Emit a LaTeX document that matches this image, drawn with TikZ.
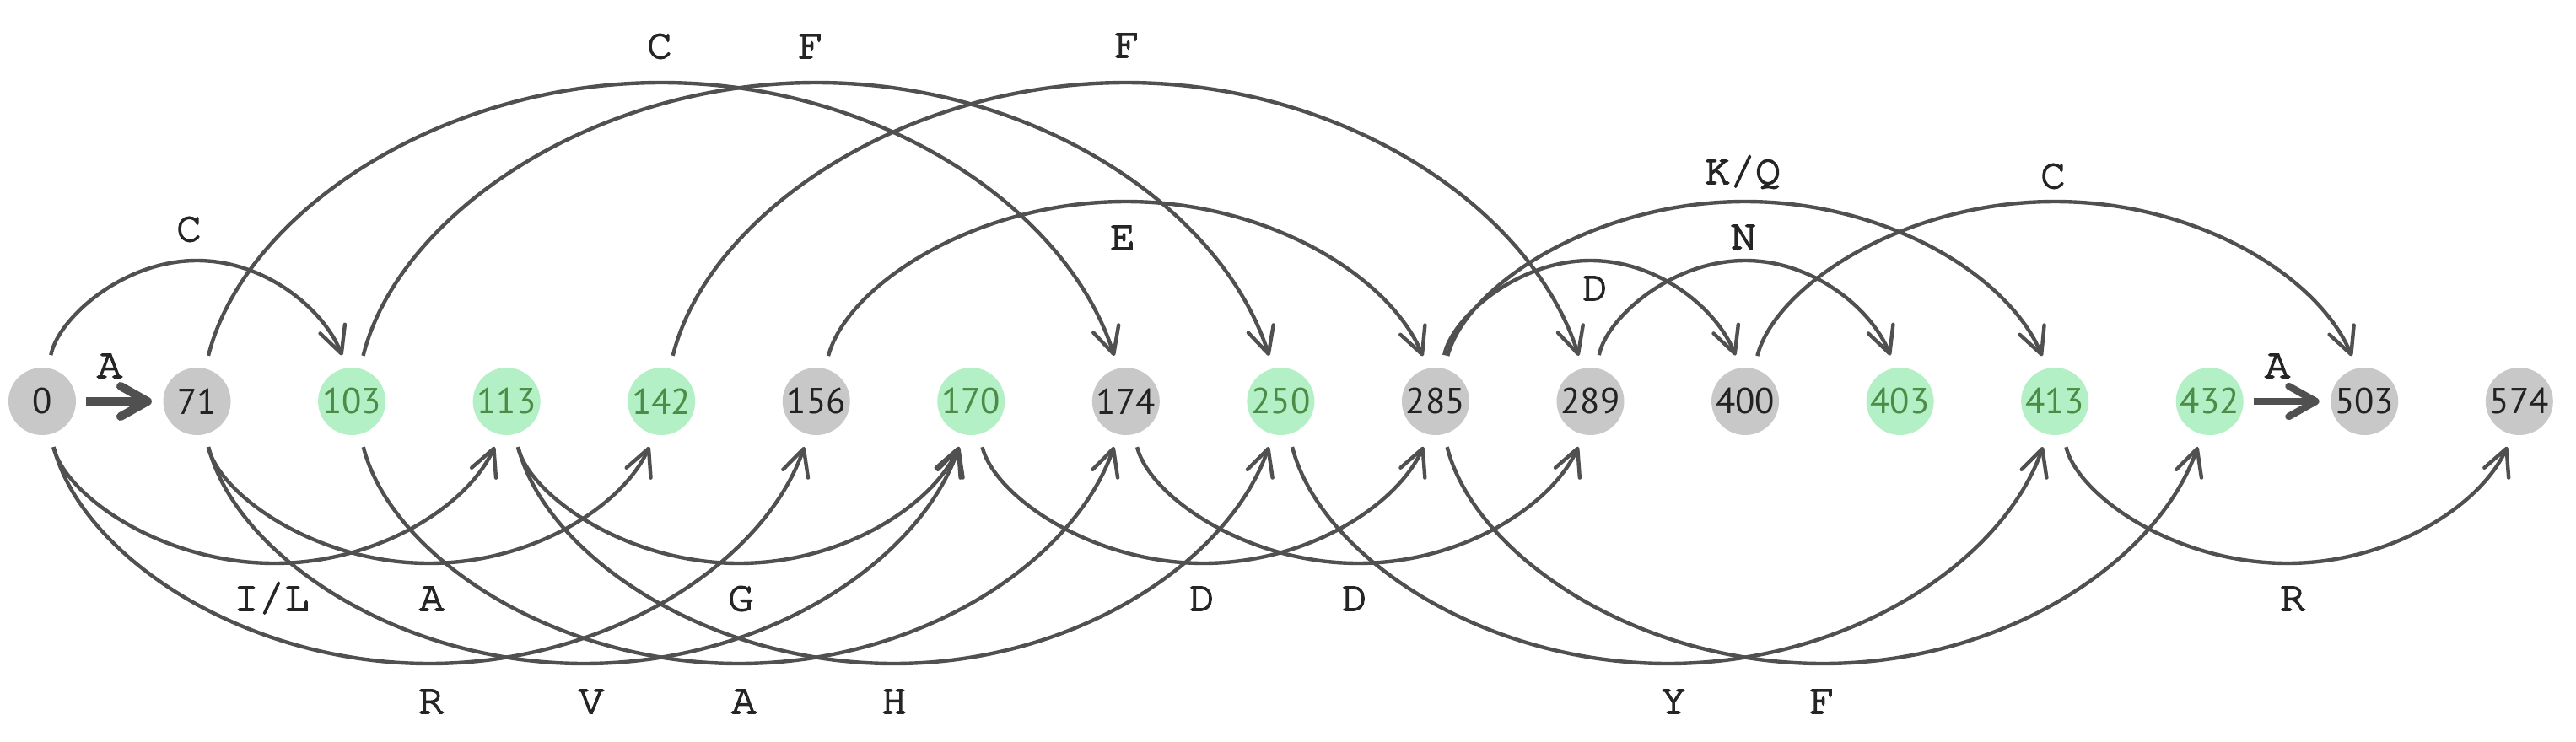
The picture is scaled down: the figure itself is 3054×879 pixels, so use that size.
\documentclass[tikz,border=0pt]{standalone}
\usepackage{fontspec}
\setmainfont{PT Sans}
\newfontfamily\numfont{PT Sans}
\newfontfamily\lblfont{TeX Gyre Cursor}[FakeBold=3]
\usetikzlibrary{arrows.meta,calc,bending}
\definecolor{edgecol}{HTML}{505050}
\definecolor{greyfill}{HTML}{C8C8C8}
\definecolor{greenfill}{HTML}{B4F0C6}
\definecolor{greytext}{HTML}{222222}
\definecolor{greentext}{HTML}{4C8C46}
\definecolor{labelcol}{HTML}{252525}
\newcommand{\arcedge}[6]{\draw[conn] (#1) .. controls +(#3,#4) and +(-#5,0) .. ($(#1)!.5!(#2)+(0,#6)$) .. controls +(#5,0) and +(-#3,#4) .. (#2);}
\begin{document}
\begin{tikzpicture}[x=0.25pt,y=-0.25pt,
  vnode/.style={circle, minimum size=20pt, inner sep=0pt, font=\numfont\fontsize{10.7}{12}\selectfont},
  gnode/.style={vnode, fill=greyfill, text=greytext},
  hnode/.style={vnode, fill=greenfill, text=greentext},
  conn/.style={draw=edgecol, line width=1.1pt, shorten <=3.75pt, shorten >=3.75pt,
    -{Straight Barb[length=7.8pt,width=7.8pt,round]}},
  bigarrow/.style={draw=edgecol, shorten <=2.9pt, shorten >=3.2pt,
    -{Straight Barb[length=8pt,width=9pt,round]}},
  lbl/.style={font=\lblfont\fontsize{12.5}{14}\selectfont, text=labelcol, anchor=base, inner sep=0pt}]
\useasboundingbox (0,0) rectangle (3054,879);
% value nodes
\node[gnode] (n0)  at (50,476) {0};
\node[gnode] (n1)  at (233.55,476) {71};
\node[hnode] (n2)  at (417.1,476) {103};
\node[hnode] (n3)  at (600.65,476) {113};
\node[hnode] (n4)  at (784.2,476) {142};
\node[gnode] (n5)  at (967.75,476) {156};
\node[hnode] (n6)  at (1151.3,476) {170};
\node[gnode] (n7)  at (1334.85,476) {174};
\node[hnode] (n8)  at (1518.4,476) {250};
\node[gnode] (n9)  at (1701.95,476) {285};
\node[gnode] (n10) at (1885.5,476) {289};
\node[gnode] (n11) at (2069.05,476) {400};
\node[hnode] (n12) at (2252.6,476) {403};
\node[hnode] (n13) at (2436.15,476) {413};
\node[hnode] (n14) at (2619.7,476) {432};
\node[gnode] (n15) at (2803.25,476) {503};
\node[gnode] (n16) at (2986.8,476) {574};
% straight arrows
\draw[bigarrow, line width=2.5pt] (n0) -- (n1);
\draw[bigarrow, line width=2.1pt] (n14) -- (n15);
% arcs above
\arcedge{n0}{n2}{18.3}{-97.4}{88.7}{-167}
\arcedge{n1}{n7}{54.9}{-220.4}{266}{-378}
\arcedge{n2}{n8}{54.9}{-220.4}{266}{-378}
\arcedge{n4}{n10}{54.9}{-220.4}{266}{-378}
\arcedge{n5}{n9}{36.6}{-138.2}{177.3}{-237}
\arcedge{n9}{n13}{36.6}{-138.2}{177.3}{-237}
\arcedge{n9}{n11}{18.3}{-97.4}{88.7}{-167}
\arcedge{n10}{n12}{18.3}{-97.4}{88.7}{-167}
\arcedge{n11}{n15}{36.6}{-138.2}{177.3}{-237}
% arcs below
\arcedge{n0}{n3}{27.4}{111.9}{133}{192}
\arcedge{n1}{n4}{27.4}{111.9}{133}{192}
\arcedge{n3}{n6}{27.4}{111.9}{133}{192}
\arcedge{n6}{n9}{27.4}{111.9}{133}{192}
\arcedge{n7}{n10}{27.4}{111.9}{133}{192}
\arcedge{n13}{n16}{27.4}{111.9}{133}{192}
\arcedge{n0}{n5}{45.8}{181.3}{221.6}{311}
\arcedge{n1}{n6}{45.8}{181.3}{221.6}{311}
\arcedge{n2}{n7}{45.8}{181.3}{221.6}{311}
\arcedge{n3}{n8}{45.8}{181.3}{221.6}{311}
\arcedge{n8}{n13}{45.8}{181.3}{221.6}{311}
\arcedge{n9}{n14}{45.8}{181.3}{221.6}{311}
% labels
\node[lbl] (lA1) at (130,448) {A};
\node[lbl] (lA2) at (2700,448) {A};
\node[lbl] (lC1) at (224,286) {C};
\node[lbl] (lC2) at (782,69) {C};
\node[lbl] (lF1) at (961,69) {F};
\node[lbl] (lF2) at (1336,68) {F};
\node[lbl] (lE)  at (1331,296) {E};
\node[lbl] (lD1) at (1891,356) {D};
\node[lbl] (lN)  at (2067,295) {N};
\node[lbl] (lKQ) at (2066,218) {K/Q};
\node[lbl] (lC3) at (2434,223) {C};
\node[lbl] (lIL) at (322,724) {I/L};
\node[lbl] (lA3) at (512,724) {A};
\node[lbl] (lG)  at (878,724) {G};
\node[lbl] (lD2) at (1425,724) {D};
\node[lbl] (lD3) at (1606,724) {D};
\node[lbl] (lR1) at (2718,724) {R};
\node[lbl] (lR2) at (511,846) {R};
\node[lbl] (lV)  at (701,846) {V};
\node[lbl] (lA4) at (882,846) {A};
\node[lbl] (lH)  at (1060,846) {H};
\node[lbl] (lY)  at (1984,846) {Y};
\node[lbl] (lF3) at (2160,846) {F};
\end{tikzpicture}
\end{document}
